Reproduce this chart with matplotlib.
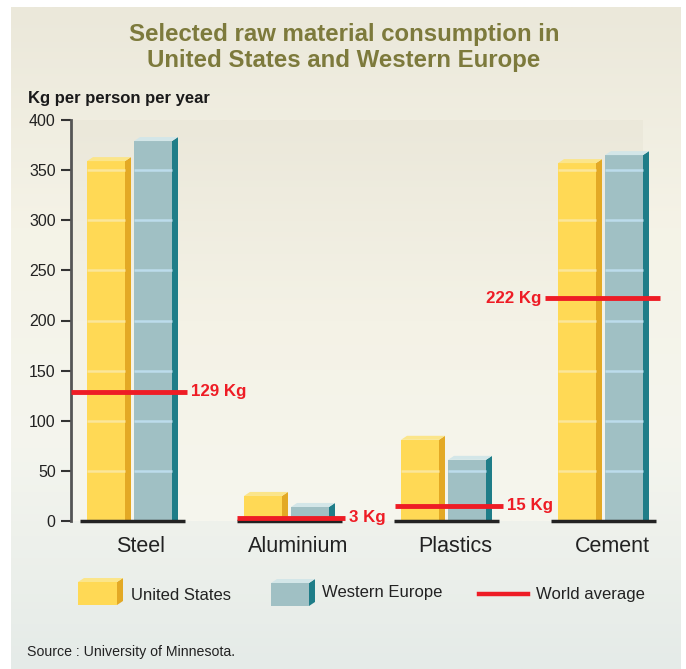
import numpy as np
import matplotlib
matplotlib.use("Agg")
import matplotlib.pyplot as plt
from matplotlib.patches import Polygon
from matplotlib.colors import LinearSegmentedColormap

categories = ["Steel", "Aluminium", "Plastics", "Cement"]
us_values = [359, 25, 81, 357]
we_values = [379, 14, 61, 365]
world_avg = [129, 3, 15, 222]
avg_labels = ["129 Kg", "3 Kg", "15 Kg", "222 Kg"]
y_ticks = [0, 50, 100, 150, 200, 250, 300, 350, 400]

W, H = 686, 669
fig = plt.figure(figsize=(W / 100, H / 100), dpi=100)
plt.rcParams["font.family"] = ["Liberation Sans", "DejaVu Sans"]

# panel background gradient
bg = fig.add_axes([0, 0, 1, 1])
bg.set_xlim(0, W)
bg.set_ylim(H, 0)
bg.axis("off")
cmap = LinearSegmentedColormap.from_list(
    "panel", ["#ebe8da", "#f5f3e7", "#f4f5ee", "#e5ebe8"])
grad = np.linspace(0, 1, 256).reshape(-1, 1)
bg.imshow(grad, cmap=cmap, aspect="auto", extent=[11, 681, 669, 7], zorder=0)

def px(x, y):
    return x / W, 1 - y / H

# main axes: pixel 71..660 horizontally, 120..521 vertically (0..400)
ax_left, ax_right, ax_top, ax_bot = 71, 660, 120, 521
ax = fig.add_axes([ax_left / W, 1 - ax_bot / H, (ax_right - ax_left) / W,
                   (ax_bot - ax_top) / H])
ax.patch.set_alpha(0)
unit = 157.0  # px per group
x0 = (ax_left - 133) / unit
x1 = (ax_right - 133) / unit
ax.set_xlim(x0, x1)
ax.set_ylim(0, 400)
ypx = (ax_bot - ax_top) / 400.0

# darker plot area
grad2 = np.linspace(0, 1, 256).reshape(-1, 1)
cmap2 = LinearSegmentedColormap.from_list("plot", ["#ebe8da", "#f4f2e6", "#f6f6ee"])
ax.imshow(grad2, cmap=cmap2, aspect="auto",
          extent=[x0, x0 + (643 - ax_left) / unit, 0, 400], zorder=0.5)

face_w = 38 / unit
side_w = 6 / unit
depth_y = 4 / ypx
xs = np.arange(len(categories))

def bar3d(xc, val, face, side, top, hl):
    left = xc - face_w / 2
    ax.bar(xc, val, width=face_w, color=face, zorder=2, linewidth=0)
    ax.add_patch(Polygon([(left + face_w, 0), (left + face_w + side_w, 0),
                          (left + face_w + side_w, val + depth_y),
                          (left + face_w, val)],
                         closed=True, facecolor=side, edgecolor="none", zorder=2))
    ax.add_patch(Polygon([(left, val), (left + face_w, val),
                          (left + face_w + side_w, val + depth_y),
                          (left + side_w, val + depth_y)],
                         closed=True, facecolor=top, edgecolor="none", zorder=2))
    for g in y_ticks[1:]:
        if g < val - 3:
            ax.hlines(g, left, left + face_w, color=hl, lw=1.8, zorder=3)

us_off = -27 / unit
we_off = 20 / unit
for i in xs:
    bar3d(i + us_off, us_values[i], "#ffd955", "#e3a925", "#fbe58a", "#fbe69a")
    bar3d(i + we_off, we_values[i], "#a0c0c4", "#1f7d88", "#d3e6e8", "#bcdcec")
    ax.hlines(0, i - 53 / unit, i + 52 / unit, color="#222222", lw=2.5,
              zorder=4, clip_on=False)

# world average lines
starts = [x0, -53 / unit, -52 / unit, -59 / unit]
ends = [54 / unit, 55 / unit, 56 / unit, 56 / unit]
for i in xs:
    xa = starts[i] if i == 0 else i + starts[i]
    xb = i + ends[i]
    ax.hlines(world_avg[i], xa, xb, color="#ee1c25", lw=3.5, zorder=5,
              clip_on=False)
    if i == 3:
        ax.text(xa - 4 / unit, world_avg[i], avg_labels[i], color="#ee1c25",
                fontsize=12.2, fontweight="bold", ha="right", va="center")
    else:
        ax.text(xb + 4 / unit, world_avg[i], avg_labels[i], color="#ee1c25",
                fontsize=12.2, fontweight="bold", ha="left", va="center")

ax.set_yticks(y_ticks)
ax.set_yticklabels([str(t) for t in y_ticks], fontsize=11.5, color="#222222")
ax.tick_params(axis="y", length=7, width=1.5, color="#333333", pad=4)
ax.set_xticks([])
for s in ["top", "right", "bottom"]:
    ax.spines[s].set_visible(False)
ax.spines["left"].set_color("#555555")
ax.spines["left"].set_linewidth(2)

for i in xs:
    ax.text(i + 8 / unit, -25, categories[i], fontsize=15.5, color="#222222",
            ha="center", va="center", clip_on=False)

# title and axis caption
fig.text(*px(344, 35), "Selected raw material consumption in", fontsize=17.3,
         fontweight="bold", color="#7d7a3c", ha="center", va="center")
fig.text(*px(344, 61), "United States and Western Europe", fontsize=17.3,
         fontweight="bold", color="#7d7a3c", ha="center", va="center")
fig.text(*px(28, 98), "Kg per person per year", fontsize=12,
         fontweight="bold", color="#1a1a1a", ha="left", va="center")

# legend (pixel coordinates, y downwards)
lg = bg
def swatch(x, y_top, w, h, face, side, top):
    d = 4
    lg.add_patch(Polygon([(x, y_top + d), (x + w, y_top + d), (x + w, y_top + d + h),
                          (x, y_top + d + h)], facecolor=face, edgecolor="none",
                         zorder=2))
    lg.add_patch(Polygon([(x + w, y_top + d), (x + w + 6, y_top),
                          (x + w + 6, y_top + h), (x + w, y_top + d + h)],
                         facecolor=side, edgecolor="none", zorder=2))
    lg.add_patch(Polygon([(x, y_top + d), (x + w, y_top + d), (x + w + 6, y_top),
                          (x + 6, y_top)], facecolor=top, edgecolor="none", zorder=2))

swatch(78, 578, 39, 23, "#ffd955", "#e3a925", "#fbe58a")
swatch(271, 579, 38, 23, "#a0c0c4", "#1f7d88", "#d3e6e8")
lg.text(131, 595, "United States", fontsize=12, color="#222222", va="center")
lg.text(322, 592, "Western Europe", fontsize=12, color="#222222", va="center")
lg.plot([479, 528], [594, 594], color="#ee1c25", lw=3.2)
lg.text(536, 595, "World average", fontsize=12, color="#222222", va="center")

lg.text(27, 652, "Source : University of Minnesota.", fontsize=10.2,
        color="#222222", va="center")

fig.savefig("out.png", dpi=100)
